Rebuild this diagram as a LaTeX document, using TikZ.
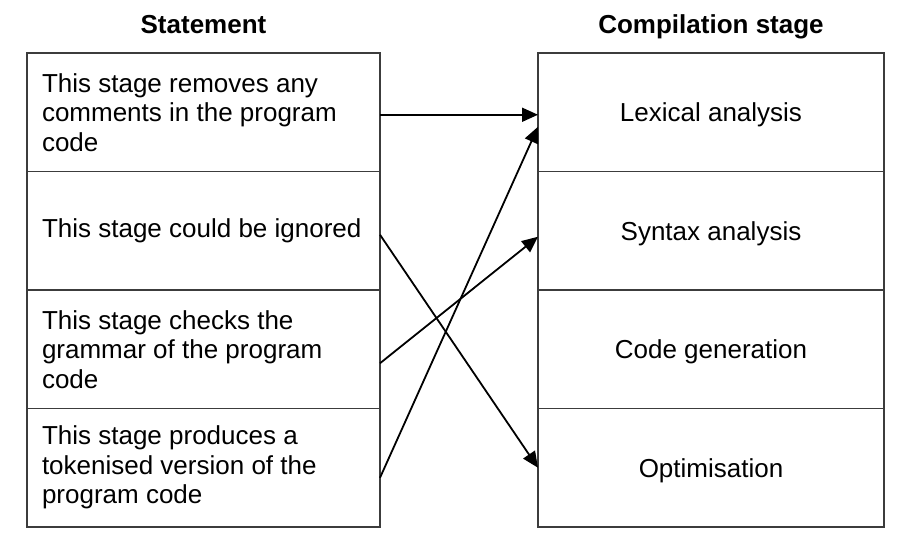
\documentclass[tikz,border=0pt]{standalone}
\usepackage{fontspec}
\setmainfont{Liberation Sans}
\usepackage{tikz}
\usetikzlibrary{arrows.meta,positioning}
\definecolor{cLine}{RGB}{60,60,60}
\tikzset{
  basebox/.style={rectangle,draw=cLine,line width=1.2pt,outer sep=0pt,
                  font=\fontsize{26pt}{29.5pt}\selectfont},
  stmtbox/.style={basebox,minimum width=353pt,minimum height=118.5pt,
                  text width=323pt,inner xsep=15pt,align=flush left},
  stagebox/.style={basebox,minimum width=346pt,minimum height=118.5pt,align=center,
                   text depth=0pt},
  headlbl/.style={font=\fontsize{26pt}{29.5pt}\selectfont\bfseries,inner sep=0pt,anchor=base},
  arr/.style={-{Triangle[length=16pt,width=14pt]},line width=1.8pt,color=black}
}
\begin{document}
\begin{tikzpicture}[x=1pt,y=-1pt]
  \useasboundingbox (0,0) rectangle (914,552);

  % Statements
  \node[stmtbox] (s1) at (203.5,112.25) {This stage removes any\\comments in the program\\code};
  \node[stmtbox,below=0pt of s1] (s2) {This stage could be ignored};
  \node[stmtbox,below=0pt of s2] (s3) {This stage checks the\\grammar of the program\\code};
  \node[stmtbox,below=0pt of s3] (s4) {This stage produces a\\tokenised version of the\\program code};

  % Compilation stages
  \node[stagebox] (c1) at (711,112.25) {Lexical analysis};
  \node[stagebox,below=0pt of c1] (c2) {Syntax analysis};
  \node[stagebox,below=0pt of c2] (c3) {Code generation};
  \node[stagebox,below=0pt of c3] (c4) {Optimisation};

  % Headings
  \node[headlbl] (hs) at ([yshift=20pt]s1.north) {Statement};
  \node[headlbl] (hc) at ([yshift=20pt]c1.north) {Compilation stage};

  % Matching arrows
  \draw[arr] ([yshift=-2.5pt]s1.east) -- ([yshift=-2.5pt]c1.west);
  \draw[arr] ([yshift=-4pt]s2.east) -- (c4.west);
  \draw[arr] ([yshift=-14pt]s3.east) -- ([yshift=-6pt]c2.west);
  \draw[arr] ([yshift=-10pt]s4.east) -- ([yshift=-14.5pt]c1.west);

\end{tikzpicture}
\end{document}
